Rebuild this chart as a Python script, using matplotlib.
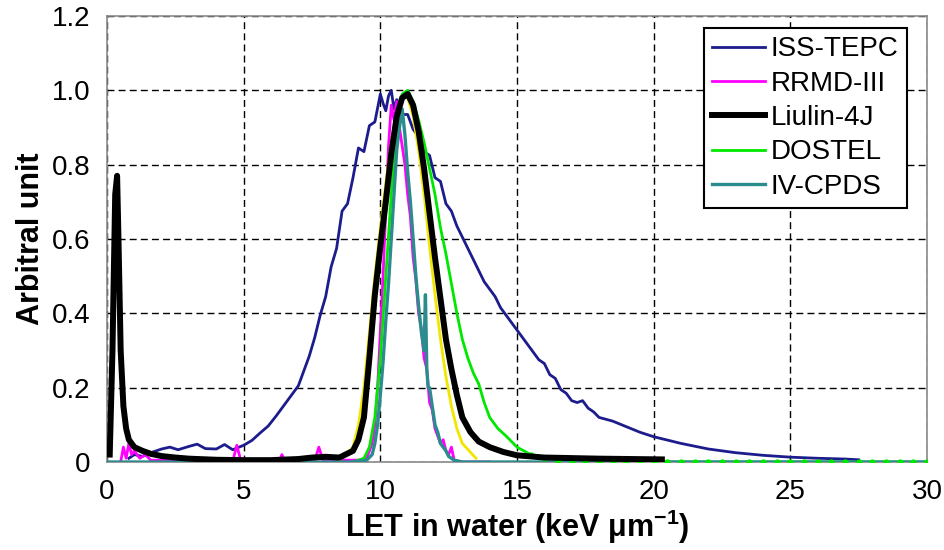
import numpy as np
import matplotlib
matplotlib.use("Agg")
import matplotlib.pyplot as plt

plt.rcParams['font.family'] = ['Liberation Sans', 'DejaVu Sans']

# ---- data ----
tepc_x = [0.8, 1.0, 1.3, 1.6, 2.0, 2.3, 2.6, 3.0, 3.3, 3.6, 4.0, 4.3, 4.6, 5.0, 5.3, 5.6, 5.9,
          6.2, 6.5, 6.8, 7.0, 7.2, 7.4, 7.6, 7.8, 8.0, 8.2, 8.4, 8.6, 8.8, 9.0, 9.2, 9.4, 9.6,
          9.8, 10.0, 10.1, 10.2, 10.3, 10.4, 10.5, 10.6, 10.8, 11.0, 11.2, 11.4, 11.6, 11.8,
          12.0, 12.2, 12.4, 12.6, 12.8, 13.0, 13.2, 13.4, 13.6, 13.8, 14.0, 14.2, 14.4, 14.6,
          14.8, 15.0, 15.2, 15.4, 15.6, 15.8, 16.0, 16.2, 16.4, 16.6, 16.8, 17.0, 17.2, 17.4,
          17.6, 17.8, 18.0, 18.5, 19.0, 19.5, 20.0, 21.0, 22.0, 23.0, 24.0, 25.0, 26.0, 27.0, 27.5]
tepc_y = [0.01, 0.02, 0.015, 0.025, 0.035, 0.04, 0.033, 0.042, 0.048, 0.036, 0.035, 0.047, 0.033,
          0.045, 0.058, 0.078, 0.097, 0.125, 0.155, 0.185, 0.205, 0.245, 0.285, 0.335, 0.395, 0.445,
          0.525, 0.575, 0.675, 0.695, 0.765, 0.845, 0.835, 0.905, 0.915, 0.99, 0.965, 0.945, 0.985,
          1.0, 0.95, 0.975, 0.935, 0.935, 0.895, 0.875, 0.835, 0.825, 0.765, 0.755, 0.695, 0.675,
          0.635, 0.605, 0.575, 0.545, 0.515, 0.485, 0.465, 0.445, 0.415, 0.395, 0.375, 0.355, 0.335,
          0.315, 0.295, 0.275, 0.265, 0.235, 0.225, 0.195, 0.185, 0.165, 0.16, 0.165, 0.145, 0.135,
          0.12, 0.11, 0.095, 0.08, 0.068, 0.05, 0.035, 0.025, 0.018, 0.013, 0.01, 0.008, 0.006]

rrmd_x = [0.5, 0.6, 0.7, 0.8, 0.9, 1.0, 1.2, 1.4, 1.6, 2.0, 3.0, 4.6, 4.75, 4.9, 6.3, 6.4, 6.5,
          7.6, 7.75, 7.9, 9.2, 9.5, 9.7, 9.8, 9.9, 10.0, 10.1, 10.2, 10.3, 10.4, 10.5, 10.6,
          10.7, 10.8, 10.9, 11.0, 11.1, 11.2, 11.3, 11.4, 11.5, 11.6, 11.7, 11.8, 11.9, 12.0,
          12.1, 12.2, 12.3, 12.4, 12.5, 12.6, 12.7, 13.0, 14.0]
rrmd_y = [0.0, 0.04, 0.01, 0.05, 0.02, 0.03, 0.01, 0.02, 0.005, 0.005, 0.0, 0.002, 0.045, 0.002,
          0.002, 0.02, 0.002, 0.004, 0.04, 0.005, 0.005, 0.01, 0.05, 0.1, 0.2, 0.35, 0.5, 0.68,
          0.85, 0.96, 0.92, 0.97, 0.9, 0.85, 0.8, 0.72, 0.66, 0.55, 0.49, 0.4, 0.36, 0.28, 0.25,
          0.16, 0.14, 0.09, 0.07, 0.05, 0.06, 0.03, 0.02, 0.04, 0.005, 0.0, 0.0]

liulin_x = [0.1, 0.2, 0.3, 0.37, 0.42, 0.5, 0.6, 0.7, 0.8, 1.0, 1.3, 1.6, 2.0, 2.5, 3.0, 4.0,
            5.0, 6.0, 7.0, 7.5, 8.0, 8.5, 9.0, 9.2, 9.4, 9.6, 9.8, 10.0, 10.2, 10.4, 10.6, 10.8,
            11.0, 11.2, 11.4, 11.6, 11.8, 12.0, 12.2, 12.4, 12.6, 12.8, 13.0, 13.3, 13.6, 14.0,
            14.5, 15.0, 16.0, 18.0, 20.3]
liulin_y = [0.02, 0.3, 0.72, 0.77, 0.6, 0.3, 0.15, 0.09, 0.06, 0.04, 0.03, 0.022, 0.016, 0.012,
            0.009, 0.006, 0.005, 0.005, 0.008, 0.012, 0.014, 0.012, 0.03, 0.06, 0.12, 0.28, 0.45,
            0.58, 0.70, 0.83, 0.93, 0.98, 0.99, 0.96, 0.89, 0.79, 0.67, 0.55, 0.44, 0.33, 0.25,
            0.18, 0.12, 0.08, 0.055, 0.04, 0.027, 0.018, 0.012, 0.009, 0.007]

dostel_x = [9.0, 9.4, 9.6, 9.8, 10.0, 10.2, 10.4, 10.6, 10.8, 11.0, 11.2, 11.4, 11.6, 11.8, 12.0,
            12.2, 12.4, 12.6, 12.8, 13.0, 13.2, 13.4, 13.6, 13.8, 14.0, 14.3, 14.6, 15.0, 15.5,
            16.0, 16.5, 17.0, 17.5, 18.0, 18.5, 19.0, 19.5, 20.0, 20.5, 21.0, 21.5, 22.0, 22.5,
            23.0, 23.5, 24.0, 24.5, 25.0, 25.5, 26.0, 26.5, 27.0, 27.5, 28.0, 28.5, 29.0, 29.5, 30.0]
dostel_y = [0.0, 0.01, 0.04, 0.12, 0.28, 0.50, 0.72, 0.90, 0.99, 1.0, 0.97, 0.92, 0.86, 0.79,
            0.72, 0.63, 0.56, 0.48, 0.40, 0.33, 0.28, 0.24, 0.21, 0.16, 0.12, 0.09, 0.07, 0.04,
            0.02, 0.01, 0.005, 0.003, 0.002, 0.0, 0.0, 0.0, 0.0, 0.0, 0.0, 0.0, 0.0, 0.0, 0.0,
            0.0, 0.0, 0.0, 0.0, 0.0, 0.0, 0.0, 0.0, 0.0, 0.0, 0.0, 0.0, 0.0, 0.0, 0.0]

cpds_x = [0.0, 9.0, 9.5, 9.7, 9.8, 9.9, 10.0, 10.1, 10.2, 10.3, 10.4, 10.5, 10.6, 10.7, 10.8,
          10.9, 11.0, 11.1, 11.2, 11.3, 11.4, 11.5, 11.6, 11.65, 11.7, 11.75, 11.8, 11.9, 12.0,
          12.1, 12.2, 12.3, 12.4, 12.5, 12.7, 13.0, 30.0]
cpds_y = [0.0, 0.0, 0.005, 0.02, 0.05, 0.1, 0.18, 0.27, 0.38, 0.48, 0.6, 0.72, 0.84, 0.9, 0.95,
          0.88, 0.78, 0.7, 0.6, 0.5, 0.42, 0.35, 0.3, 0.45, 0.25, 0.2, 0.2, 0.15, 0.1, 0.08,
          0.05, 0.04, 0.03, 0.015, 0.005, 0.0, 0.0]

# unlabeled yellow curve, mostly hidden behind Liulin-4J
yellow_x = [8.5, 9.0, 9.2, 9.4, 9.6, 9.8, 10.0, 10.2, 10.4, 10.6, 10.8, 11.0, 11.2, 11.4, 11.6,
            11.8, 12.0, 12.2, 12.4, 12.6, 12.8, 13.0, 13.5]
yellow_y = [0.005, 0.04, 0.1, 0.2, 0.35, 0.5, 0.63, 0.75, 0.86, 0.94, 0.98, 0.98, 0.93, 0.84,
            0.72, 0.58, 0.45, 0.33, 0.23, 0.15, 0.09, 0.05, 0.01]

xticks = [0, 5, 10, 15, 20, 25, 30]
yticks = [0, 0.2, 0.4, 0.6, 0.8, 1.0, 1.2]
ytick_labels = ['0', '0.2', '0.4', '0.6', '0.8', '1.0', '1.2']

fig = plt.figure(figsize=(9.45, 5.5), dpi=100)
ax = fig.add_axes([107/945, 1-462/550, 820/945, 446/550])

ax.plot(tepc_x, tepc_y, color='#1c1c8c', lw=2.0, label='ISS-TEPC', zorder=3)
ax.plot(rrmd_x, rrmd_y, color='#ff00ff', lw=2.0, label='RRMD-III', zorder=4)
ax.plot(yellow_x, yellow_y, color='#f2e600', lw=2.0, zorder=4)
ax.plot(dostel_x, dostel_y, color='#00e800', lw=2.0, label='DOSTEL', zorder=5)
# green dots showing along the zero line
ax.plot(dostel_x[28:], dostel_y[28:], ls='none', marker='o', ms=3.5, color='#00e800', zorder=7)
ax.plot(cpds_x, cpds_y, color='#2a8c8c', lw=2.4, label='IV-CPDS', zorder=6)
ax.plot(liulin_x, liulin_y, color='black', lw=4.3, label='Liulin-4J', zorder=8)

ax.set_xlim(0, 30)
ax.set_ylim(0, 1.2)
ax.set_xticks(xticks)
ax.set_yticks(yticks)
ax.set_yticklabels(ytick_labels)
ax.tick_params(axis='both', length=0, labelsize=20)
ax.tick_params(axis='x', pad=12)
ax.tick_params(axis='y', pad=12)
ax.grid(True, color='black', ls=(0, (5, 3)), lw=1.0)
for s in ax.spines.values():
    s.set_color('#8a8a8a')
    s.set_linewidth(1.2)

ax.set_xlabel('LET in water (keV $\\mathregular{\\mu m^{-1}}$)', fontsize=22, fontweight='bold', labelpad=2)
ax.set_ylabel('Arbitral unit', fontsize=22, fontweight='bold', labelpad=4)

h, l = ax.get_legend_handles_labels()
order = ['ISS-TEPC', 'RRMD-III', 'Liulin-4J', 'DOSTEL', 'IV-CPDS']
hs = [h[l.index(o)] for o in order]
leg = ax.legend(hs, order, loc='upper right', bbox_to_anchor=(907/945, 1-28/550),
                bbox_transform=fig.transFigure, borderaxespad=0, fontsize=20,
                frameon=True, fancybox=False, handlelength=1.9, handletextpad=0.2,
                labelspacing=0.3, borderpad=0.3)
leg.get_frame().set_edgecolor('black')
leg.get_frame().set_linewidth(1.5)
leg.get_frame().set_alpha(1)
leg.set_zorder(10)

fig.savefig('out.png', dpi=100)
